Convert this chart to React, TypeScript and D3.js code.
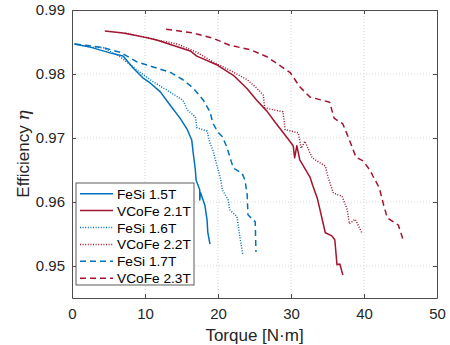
import { FC, useEffect, useRef } from 'react';
import * as d3 from 'd3';

// torque [N·m], efficiency pairs
const fesi15: [number, number][] = [
  [0.3, 0.9847], [2.5, 0.9842], [5.2, 0.9833], [7.0, 0.9828], [8.4, 0.9809], [9.7, 0.9794],
  [10.7, 0.9786], [12.1, 0.9772], [13.4, 0.9752], [14.8, 0.9731], [15.8, 0.9713], [16.4, 0.9697],
  [16.6, 0.9677], [16.9, 0.965], [17.0, 0.9634], [17.5, 0.9619], [17.5, 0.9603], [17.6, 0.9615],
  [18.2, 0.9595], [18.5, 0.9572], [18.6, 0.9553], [18.9, 0.9534],
];
const vcofe21: [number, number][] = [
  [4.5, 0.9867], [7.0, 0.9864], [9.7, 0.9858], [11.6, 0.9853], [13.8, 0.9845], [16.2, 0.9836],
  [17.1, 0.9828], [19.9, 0.9814], [22.1, 0.9798], [24.0, 0.9777], [25.3, 0.9759], [26.7, 0.9742],
  [27.8, 0.9725], [29.5, 0.97], [30.3, 0.9688], [30.5, 0.9669], [30.8, 0.9688], [31.2, 0.9666],
  [32.6, 0.9639], [33.0, 0.9625], [33.6, 0.9606], [34.7, 0.9552], [35.6, 0.9547], [36.0, 0.9541],
  [36.3, 0.9502], [36.7, 0.9503], [37.1, 0.9486],
];
const fesi16: [number, number][] = [
  [0.4, 0.9847], [2.5, 0.9842], [4.3, 0.9841], [6.6, 0.9827], [8.9, 0.9806], [11.1, 0.9788],
  [13.4, 0.9772], [15.2, 0.9759], [15.8, 0.9744], [16.9, 0.9733], [17.1, 0.9716], [18.5, 0.9711],
  [18.9, 0.9692], [19.3, 0.9681], [19.9, 0.9655], [20.3, 0.9639], [20.6, 0.9619], [21.4, 0.9603],
  [21.6, 0.9588], [22.6, 0.9577], [23.0, 0.9545], [23.4, 0.9517],
];
const vcofe22: [number, number][] = [
  [7.3, 0.9864], [10.7, 0.9856], [11.6, 0.9853], [14.4, 0.9847], [17.1, 0.9834], [19.3, 0.9819],
  [21.6, 0.9806], [24.0, 0.9791], [25.3, 0.9778], [26.2, 0.9767], [26.4, 0.9747], [28.9, 0.9741],
  [29.2, 0.9713], [31.0, 0.9708], [31.4, 0.9684], [31.9, 0.9695], [32.9, 0.9669], [34.7, 0.9656],
  [35.1, 0.9638], [35.8, 0.9614], [37.0, 0.9609], [37.7, 0.9588], [38.0, 0.9566], [38.8, 0.9573],
  [39.7, 0.9552],
];
const fesi17: [number, number][] = [
  [0.4, 0.9847], [2.5, 0.9844], [4.3, 0.9841], [6.6, 0.9834], [8.9, 0.9819], [11.1, 0.9811],
  [13.4, 0.9803], [15.2, 0.9791], [16.6, 0.9778], [18.0, 0.9759], [18.9, 0.9741], [19.3, 0.9723],
  [20.0, 0.9709], [20.6, 0.9702], [21.2, 0.9686], [22.1, 0.9653], [23.3, 0.9645], [23.7, 0.9634],
  [24.0, 0.9611], [24.1, 0.958], [25.1, 0.9569], [25.2, 0.9522],
];
const vcofe23: [number, number][] = [
  [12.9, 0.987], [16.6, 0.9864], [19.3, 0.9856], [21.6, 0.9845], [24.4, 0.9838], [26.7, 0.9827],
  [28.5, 0.9813], [29.9, 0.9802], [31.2, 0.978], [32.6, 0.9764], [35.3, 0.9756], [35.9, 0.9731],
  [37.1, 0.9722], [38.0, 0.9697], [38.9, 0.967], [39.9, 0.9664], [40.8, 0.965], [41.2, 0.9641],
  [42.1, 0.9622], [42.7, 0.9595], [43.2, 0.9575], [44.7, 0.9564], [45.3, 0.9543],
];

const seriesNames = ['FeSi 1.5T', 'VCoFe 2.1T', 'FeSi 1.6T', 'VCoFe 2.2T', 'FeSi 1.7T', 'VCoFe 2.3T'];
const seriesData = [fesi15, vcofe21, fesi16, vcofe22, fesi17, vcofe23];
const xTicks = [0, 10, 20, 30, 40, 50];
const yTicks = [0.95, 0.96, 0.97, 0.98, 0.99];

const BLUE = '#0072BD';
const RED = '#A2142F';
const FONT = 'Liberation Sans, Arial, Helvetica, sans-serif';

const styleFor = (i: number) => {
  const color = i % 2 === 0 ? BLUE : RED;
  const kind = Math.floor(i / 2);
  const dash = kind === 0 ? null : kind === 1 ? '1,1.6' : '6,4';
  return { color, dash };
};

const App: FC = () => {
  const svgRef = useRef<SVGSVGElement>(null);
  const width = 450;
  const height = 345;

  useEffect(() => {
    if (!svgRef.current) return;
    const svg = d3.select(svgRef.current);
    svg.selectAll('*').remove();

    const margin = { top: 10, right: 13, bottom: 47, left: 72 };
    const innerWidth = width - margin.left - margin.right;
    const innerHeight = height - margin.top - margin.bottom;

    const x = d3.scaleLinear().domain([0, 50]).range([0, innerWidth]);
    const y = d3.scaleLinear().domain([0.945, 0.99]).range([innerHeight, 0]);

    const g = svg.append('g').attr('transform', `translate(${margin.left},${margin.top})`);

    g.append('rect').attr('width', innerWidth).attr('height', innerHeight).attr('fill', '#fff');

    // dotted grid
    const grid = g.append('g').attr('stroke', '#d6d6d6').attr('stroke-width', 1).attr('stroke-dasharray', '1,2');
    xTicks.slice(1, -1).forEach((t) => {
      grid.append('line').attr('x1', x(t)).attr('x2', x(t)).attr('y1', 0).attr('y2', innerHeight);
    });
    yTicks.forEach((t) => {
      if (y(t) <= 0.5) return;
      grid.append('line').attr('x1', 0).attr('x2', innerWidth).attr('y1', y(t)).attr('y2', y(t));
    });

    // curves
    const line = d3
      .line<[number, number]>()
      .x((d) => x(d[0]))
      .y((d) => y(d[1]));

    seriesData.forEach((data, i) => {
      const s = styleFor(i);
      g.append('path')
        .datum(data)
        .attr('d', line)
        .attr('fill', 'none')
        .attr('stroke', s.color)
        .attr('stroke-width', 1.5)
        .attr('stroke-dasharray', s.dash)
        .attr('stroke-linejoin', 'round');
    });

    // axes (box, ticks pointing inward)
    const axisColor = '#4d4d4d';
    const xAxis = g
      .append('g')
      .attr('transform', `translate(0,${innerHeight})`)
      .call(d3.axisBottom(x).tickValues(xTicks).tickSizeInner(-4).tickSizeOuter(0).tickPadding(10).tickFormat(d3.format('d')));
    const yAxis = g
      .append('g')
      .call(d3.axisLeft(y).tickValues(yTicks).tickSizeInner(-4).tickSizeOuter(0).tickPadding(7).tickFormat(d3.format('.2f')));
    const xTop = g.append('g').call(d3.axisTop(x).tickValues(xTicks).tickSizeInner(-4).tickSizeOuter(0).tickFormat(() => ''));
    const yRight = g
      .append('g')
      .attr('transform', `translate(${innerWidth},0)`)
      .call(d3.axisRight(y).tickValues(yTicks).tickSizeInner(-4).tickSizeOuter(0).tickFormat(() => ''));

    [xAxis, yAxis, xTop, yRight].forEach((a) => {
      a.selectAll('path').attr('stroke', axisColor).attr('stroke-width', 1);
      a.selectAll('line').attr('stroke', axisColor);
      a.selectAll('text').attr('fill', '#262626').style('font-family', FONT).style('font-size', '15px');
    });

    // axis labels
    svg
      .append('text')
      .attr('x', margin.left + innerWidth / 2)
      .attr('y', 341)
      .attr('text-anchor', 'middle')
      .attr('fill', '#262626')
      .style('font-family', FONT)
      .style('font-size', '17px')
      .text('Torque [N·m]');

    const yl = svg
      .append('text')
      .attr('transform', `translate(29,${margin.top + innerHeight / 2}) rotate(-90)`)
      .attr('text-anchor', 'middle')
      .attr('fill', '#262626')
      .style('font-family', FONT)
      .style('font-size', '17px');
    yl.append('tspan').text('Efficiency ');
    yl.append('tspan').style('font-style', 'italic').style('font-family', 'DejaVu Serif, serif').text('η');

    // legend
    const legend = svg.append('g').attr('transform', 'translate(76,183)');
    legend
      .append('rect')
      .attr('width', 118)
      .attr('height', 102)
      .attr('fill', '#fff')
      .attr('stroke', '#333')
      .attr('stroke-width', 0.8);
    seriesNames.forEach((name, i) => {
      const s = styleFor(i);
      const cy = 10.7 + i * 16.9;
      legend
        .append('line')
        .attr('x1', 4)
        .attr('x2', 37)
        .attr('y1', cy)
        .attr('y2', cy)
        .attr('stroke', s.color)
        .attr('stroke-width', 1.5)
        .attr('stroke-dasharray', s.dash);
      legend
        .append('text')
        .attr('x', 41)
        .attr('y', cy + 5)
        .attr('fill', '#000')
        .style('font-family', FONT)
        .style('font-size', '13.7px')
        .text(name);
    });
  }, []);

  return (
    <div style={{ position: 'absolute', left: 0, top: 0 }}>
      <svg ref={svgRef} width={width} height={height} />
    </div>
  );
};

export default App;
